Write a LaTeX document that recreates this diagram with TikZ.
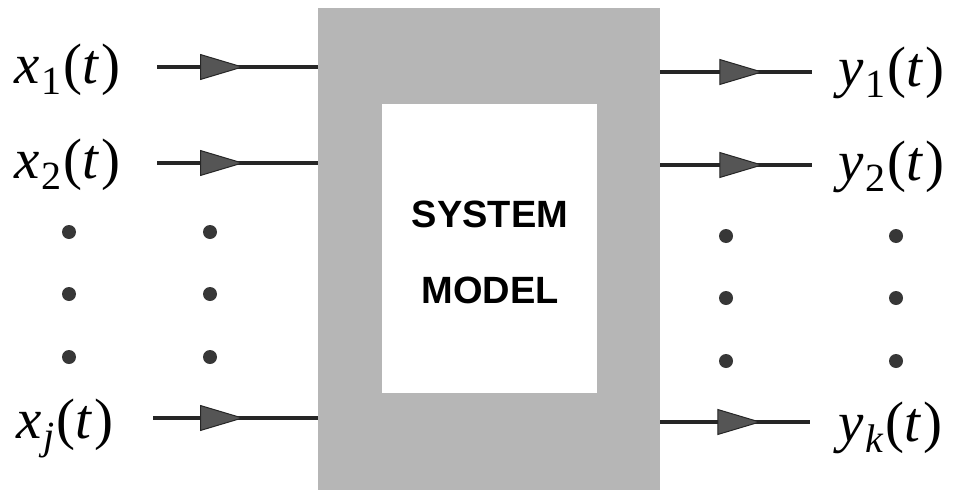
\documentclass[tikz,border=0pt]{standalone}
\usepackage{fontspec}
\newfontfamily\blocksans{Liberation Sans}
\newfontfamily\sigserif{Liberation Serif}
\usetikzlibrary{arrows.meta,decorations.markings}
\definecolor{shade}{RGB}{182,182,182}
\definecolor{headfill}{RGB}{85,85,85}
\definecolor{dotgray}{RGB}{55,55,55}
% signal label: italic letter, subscript, then (t)
\newcommand\siglabel[2]{\textit{#1}\kern0.04em\raisebox{-0.21em}{\fontsize{40}{40}\selectfont #2}\kern0.03em(\textit{t}\kern0.03em)}
\begin{document}
\begin{tikzpicture}[x=1pt,y=-1pt,
  signal/.style={inner sep=0pt, anchor=base west, font=\sigserif\fontsize{57}{57}\selectfont},
  flow/.style={line width=3.6pt, draw=black!85, postaction={decorate},
    decoration={markings, mark=at position #1 with
      {\arrow{Triangle[length=44pt,width=26pt,line width=1pt,fill=headfill]}}}},
  blocktext/.style={inner sep=0pt, anchor=base, font=\blocksans\bfseries\fontsize{38}{38}\selectfont},
  dotmark/.style={fill=dotgray}
]
\useasboundingbox (0,0) rectangle (953,490);

% the system block: shaded outer frame and white core
\node (sys) [fill=shade, inner sep=0pt, minimum width=342pt, minimum height=482pt,
  anchor=north west] at (318,8) {};
\node (core) [fill=white, inner sep=0pt, minimum width=215pt, minimum height=289pt,
  anchor=north west] at (382,104) {};
\node (t1) [blocktext] at (490,227) {SYSTEM};
\node (t2) [blocktext] at (490,303) {MODEL};

% input signals
\node (x1) [signal] at (14,83)  {\siglabel{x}{1}};
\node (x2) [signal] at (14,178) {\siglabel{x}{2}};
\node (xj) [signal] at (16,438) {\siglabel{x}{\textit{j}}};
\coordinate (a1) at (157,67);
\coordinate (a2) at (157,163);
\coordinate (aj) at (153,418);
\draw[flow=87pt] (a1) -- (a1 -| sys.west);
\draw[flow=87pt] (a2) -- (a2 -| sys.west);
\draw[flow=91pt] (aj) -- (aj -| sys.west);

% output signals
\node (y1) [signal] at (838,86)  {\siglabel{y}{1}};
\node (y2) [signal] at (838,180) {\siglabel{y}{2}};
\node (yk) [signal] at (838,441) {\siglabel{y}{\textit{k}}};
\coordinate (b1) at (812,72);
\coordinate (b2) at (812,165);
\coordinate (bk) at (810,422);
\draw[flow=103pt] (b1 -| sys.east) -- (b1);
\draw[flow=103pt] (b2 -| sys.east) -- (b2);
\draw[flow=101pt] (bk -| sys.east) -- (bk);

% ellipsis dots between the numbered signals
\foreach \yy in {232,294,357} {
  \fill[dotmark] (69,\yy) circle (7pt);
  \fill[dotmark] (210,\yy) circle (7pt);
}
\foreach \yy in {236,298,361} {
  \fill[dotmark] (726,\yy) circle (7pt);
  \fill[dotmark] (896,\yy) circle (7pt);
}
\end{tikzpicture}
\end{document}
